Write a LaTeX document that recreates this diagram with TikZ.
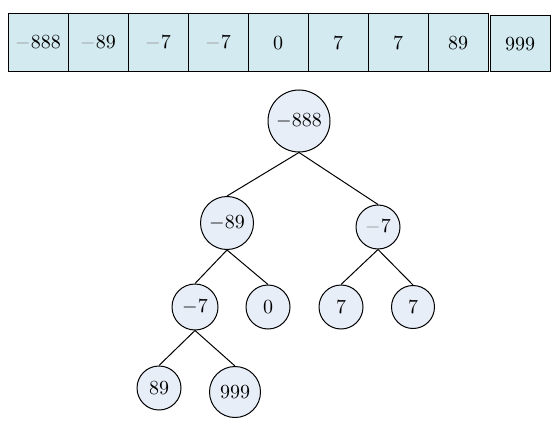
\documentclass[tikz,border=0pt]{standalone}
\usepackage{tikz}
\usetikzlibrary{positioning}
\definecolor{cellcyan}{RGB}{211, 234, 240}
\definecolor{heapblue}{RGB}{232, 238, 248}
\definecolor{minusgray}{RGB}{150, 150, 150}
\newcommand{\gm}{\textcolor{minusgray}{$-$}}

\begin{document}
\begin{tikzpicture}[
  x=0.5pt, y=-0.5pt,
  cell/.style={draw, fill=cellcyan, line width=0.5pt, minimum width=30pt, minimum height=29pt, inner sep=0pt},
  hnode/.style={draw, circle, fill=heapblue, line width=0.5pt, inner sep=0pt},
  edge/.style={line width=0.5pt}
]
  \useasboundingbox (0,0) rectangle (555,427);
  % sorted array
  \foreach \v [count=\i] in {\gm888, \gm89, \gm7, \gm7, 0, 7, 7, 89}
    \node[cell] (c\i) at ({38+60*(\i-1)}, 43) {\v};
  \node[cell, minimum height=28pt] (c9) at (520, 44) {999};
  % heap tree
  \node[hnode, minimum size=31pt] (r) at (299, 121) {$-$888};
  \node[hnode, minimum size=26.5pt] (a) at (227, 223) {$-$89};
  \node[hnode, minimum size=22pt] (b) at (378, 227) {\gm7};
  \node[hnode, minimum size=23pt] (aa) at (195, 307) {$-$7};
  \node[hnode, minimum size=22pt] (ab) at (268, 307) {0};
  \node[hnode, minimum size=22pt] (ba) at (341, 307) {7};
  \node[hnode, minimum size=21.5pt] (bb) at (413, 307) {7};
  \node[hnode, minimum size=22pt] (aaa) at (159, 388) {89};
  \node[hnode, minimum size=25.5pt] (aab) at (235, 392) {999};
  \draw[edge] (r.south) -- (a.north);
  \draw[edge] (r.south) -- (b.north);
  \draw[edge] (a.south) -- (aa.north);
  \draw[edge] (a.south) -- (ab.north);
  \draw[edge] (b.south) -- (ba.north);
  \draw[edge] (b.south) -- (bb.north);
  \draw[edge] (aa.south) -- (aaa.north);
  \draw[edge] (aa.south) -- (aab.north);
\end{tikzpicture}
\end{document}
